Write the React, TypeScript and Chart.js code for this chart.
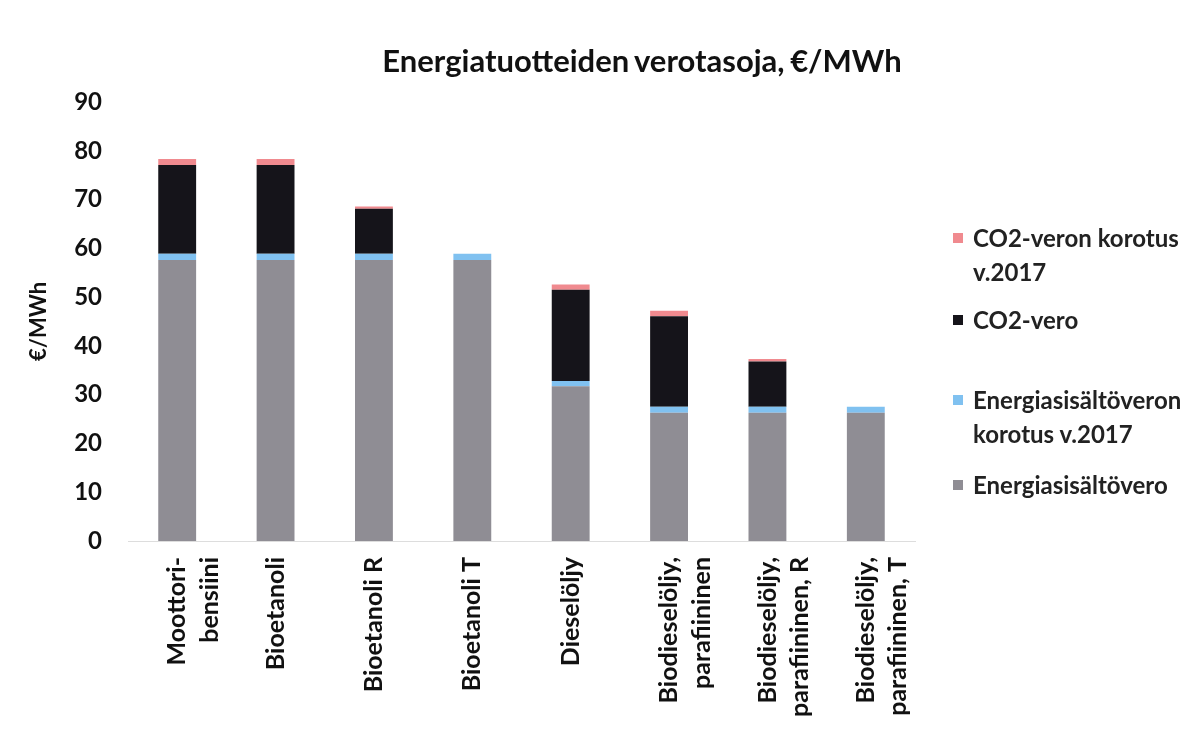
import React, { useEffect, useRef } from "react";
import { Chart, registerables } from "chart.js";

Chart.register(...registerables);

const categories: string[][] = [
  ["Moottori-", "bensiini"],
  ["Bioetanoli"],
  ["Bioetanoli R"],
  ["Bioetanoli T"],
  ["Dieselöljy"],
  ["Biodieselöljy,", "parafiininen"],
  ["Biodieselöljy,", "parafiininen, R"],
  ["Biodieselöljy,", "parafiininen, T"],
];

const energiasisaltovero = [57.6, 57.6, 57.6, 57.6, 31.7, 26.3, 26.3, 26.3];
const energiasisaltoveronKorotus = [1.3, 1.3, 1.3, 1.3, 1.1, 1.2, 1.2, 1.2];
const co2Vero = [18.2, 18.2, 9.2, 0, 18.7, 18.6, 9.3, 0];
const co2VeronKorotus = [1.2, 1.2, 0.5, 0, 1.1, 1.1, 0.5, 0];

const yTicks = [0, 10, 20, 30, 40, 50, 60, 70, 80, 90];

const titleText = "Energiatuotteiden verotasoja, €/MWh";
const yTitle = "€/MWh";

const seriesNames = [
  "Energiasisältövero",
  "Energiasisältöveron korotus v.2017",
  "CO2-vero",
  "CO2-veron korotus v.2017",
];
const seriesColors = ["#8f8d94", "#80c1f0", "#15141a", "#f08a8f"];

const legendItems: { lines: string[]; color: string; top: number }[] = [
  { lines: ["CO2-veron korotus", "v.2017"], color: seriesColors[3], top: 221 },
  { lines: ["CO2-vero"], color: seriesColors[2], top: 303 },
  { lines: ["Energiasisältöveron", "korotus v.2017"], color: seriesColors[1], top: 383 },
  { lines: ["Energiasisältövero"], color: seriesColors[0], top: 468 },
];

const FONT = "Lato, 'Open Sans', sans-serif";

export default function App() {
  const ref = useRef<HTMLCanvasElement | null>(null);
  useEffect(() => {
    if (!ref.current) return;
    const values = [energiasisaltovero, energiasisaltoveronKorotus, co2Vero, co2VeronKorotus];
    const chart = new Chart(ref.current, {
      type: "bar",
      data: {
        labels: categories,
        datasets: values.map((v, i) => ({
          label: seriesNames[i],
          data: v,
          backgroundColor: seriesColors[i],
          borderWidth: 0,
          barPercentage: 0.385,
          categoryPercentage: 1,
        })),
      },
      options: {
        animation: false,
        responsive: false,
        layout: { padding: { left: 0, right: 280, top: 102, bottom: 0 } },
        plugins: {
          legend: { display: false },
          title: { display: false },
          tooltip: { enabled: false },
        },
        scales: {
          x: {
            stacked: true,
            afterFit: (axis: any) => {
              axis.height = 189;
            },
            grid: { display: false, drawTicks: false },
            border: { display: true, color: "#dddddd", width: 1, dash: [4, 4] },
            ticks: {
              maxRotation: 90,
              minRotation: 90,
              autoSkip: false,
              padding: 16,
              color: "#111",
              font: { family: FONT, size: 25, weight: "bold", lineHeight: 1.3 },
            },
          },
          y: {
            stacked: true,
            min: 0,
            max: 90,
            afterFit: (axis: any) => {
              axis.width = 128;
            },
            afterBuildTicks: (axis: any) => {
              axis.ticks = yTicks.map((v) => ({ value: v }));
            },
            grid: { display: false, drawTicks: false },
            border: { display: false },
            ticks: {
              padding: 26,
              color: "#111",
              font: { family: FONT, size: 24, weight: "bold" },
            },
            title: {
              display: true,
              text: yTitle,
              color: "#111",
              padding: { top: 26, bottom: 0 },
              font: { family: FONT, size: 22, weight: "bold" },
            },
          },
        },
      },
    });
    return () => chart.destroy();
  }, []);

  return (
    <div style={{ position: "fixed", left: 0, top: 0, width: 1195, height: 730, background: "#fff" }}>
      <canvas ref={ref} width={1195} height={730} style={{ position: "absolute", left: 0, top: 0 }} />
      <div
        style={{
          position: "absolute",
          left: 342,
          top: 42,
          width: 600,
          textAlign: "center",
          fontFamily: FONT,
          fontWeight: 700,
          fontSize: 31,
          lineHeight: "36px",
          wordSpacing: -2,
          color: "#111",
          whiteSpace: "nowrap",
        }}
      >
        {titleText}
      </div>
      {legendItems.map((it, i) => (
        <div
          key={i}
          style={{ position: "absolute", left: 953, top: it.top, fontFamily: FONT, fontSize: 24, fontWeight: 700, color: "#222", lineHeight: "34px" }}
        >
          <span
            style={{ position: "absolute", left: 0, top: 12, width: 10, height: 10, background: it.color }}
          />
          <div style={{ marginLeft: 20 }}>
            {it.lines.map((l, j) => (
              <div key={j}>{l}</div>
            ))}
          </div>
        </div>
      ))}
    </div>
  );
}
